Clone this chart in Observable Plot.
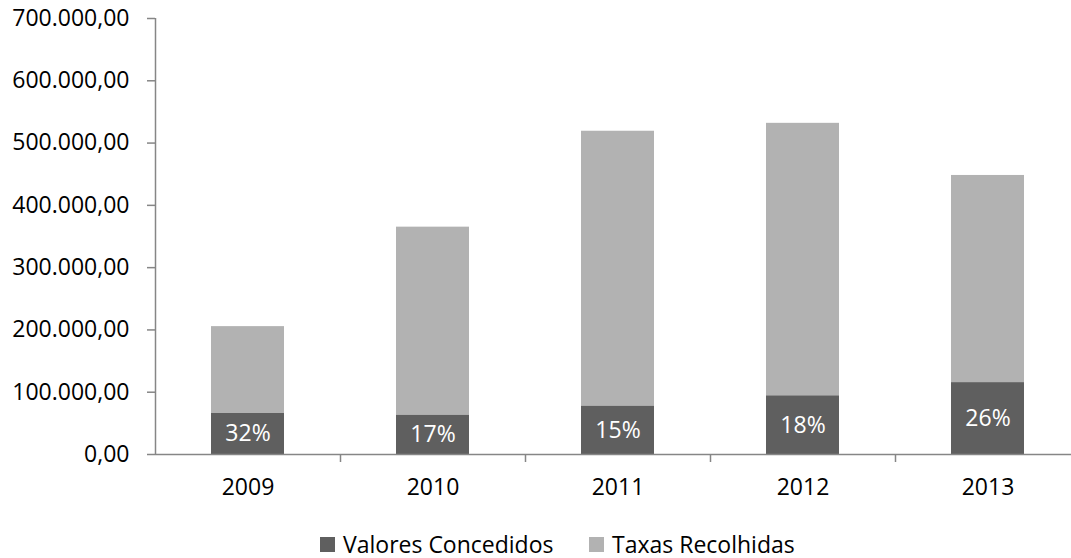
<!DOCTYPE html>
<html>
<head>
<meta charset="utf-8">
<script src="https://cdn.jsdelivr.net/npm/d3@7"></script>
<script src="https://cdn.jsdelivr.net/npm/@observablehq/plot@0.6"></script>
<style>
  html, body { margin: 0; padding: 0; background: #fff; overflow: hidden; }
  body { width: 1071px; height: 558px; font-family: "Open Sans", sans-serif; }
  #legend { position: relative; height: 46px; }
  .item { position: absolute; top: 23px; display: flex; align-items: center; font-size: 23px; color: #000; line-height: 18px; height: 18px; }
  .sw { width: 15px; height: 15px; margin-right: 8px; }
</style>
</head>
<body>
<div id="chart"></div>
<div id="legend"></div>
<script>
const years = ["2009", "2010", "2011", "2012", "2013"];
const taxasRecolhidas = [205300, 365000, 519000, 531700, 448000];
const valoresConcedidos = [65800, 62700, 77200, 93800, 115200];
const percentLabels = ["32%", "17%", "15%", "18%", "26%"];
const yTicks = [0, 100000, 200000, 300000, 400000, 500000, 600000, 700000];
const seriesNames = ["Valores Concedidos", "Taxas Recolhidas"];
const seriesColors = ["#5f5f5f", "#b2b2b2"];

const rows = years.map((y, i) => ({year: y, taxas: taxasRecolhidas[i], valores: valoresConcedidos[i], pct: percentLabels[i]}));

const ptBR = d3.formatLocale({decimal: ",", thousands: ".", grouping: [3], currency: ["R$", ""]});
const fmt = ptBR.format(",.2f");

const W = 1071, H = 512, mL = 155, mR = -9, mT = 18, mB = 58;
const halfStep = (W - mL - mR) / years.length / 2;
const axisColor = "#868686";
const FS = 23;

const chart = Plot.plot({
  width: W,
  height: H,
  marginLeft: mL,
  marginRight: mR,
  marginTop: mT,
  marginBottom: mB,
  style: {fontFamily: "Open Sans, sans-serif", fontSize: FS + "px", color: "#000", background: "#fff", overflow: "visible"},
  x: {domain: years, paddingInner: 0.605, paddingOuter: 0.3025, label: null},
  y: {domain: [0, 700000], label: null},
  marks: [
    Plot.barY(rows, {x: "year", y: "taxas", fill: seriesColors[1]}),
    Plot.barY(rows, {x: "year", y: "valores", fill: seriesColors[0]}),
    Plot.text(rows, {x: "year", y: d => d.valores / 2, text: "pct", fill: "#fff", fontSize: FS}),
    Plot.ruleY([0], {stroke: axisColor, strokeWidth: 1.5}),
    Plot.ruleX([years[0]], {dx: -halfStep, y1: 0, y2: 700000, stroke: axisColor, strokeWidth: 1.5}),
    Plot.ruleX(years, {x: d => d, dx: halfStep, y1: 0, y2: 0, insetBottom: -8, stroke: axisColor, strokeWidth: 1.5}),
    Plot.axisY({ticks: yTicks, tickFormat: fmt, tickSize: 8, tickPadding: 18, stroke: axisColor, strokeWidth: 1.5, strokeOpacity: 1, fontSize: FS, fill: "#000"}),
    Plot.axisX({tickSize: 0, tickPadding: 24, fontSize: FS, fill: "#000"})
  ]
});
document.getElementById("chart").appendChild(chart);

const legend = document.getElementById("legend");
const lefts = [320, 589];
seriesNames.forEach((name, i) => {
  const item = document.createElement("div");
  item.className = "item";
  item.style.left = lefts[i] + "px";
  const sw = document.createElement("span");
  sw.className = "sw";
  sw.style.background = seriesColors[i];
  const t = document.createElement("span");
  t.textContent = name;
  item.appendChild(sw);
  item.appendChild(t);
  legend.appendChild(item);
});
</script>
</body>
</html>
